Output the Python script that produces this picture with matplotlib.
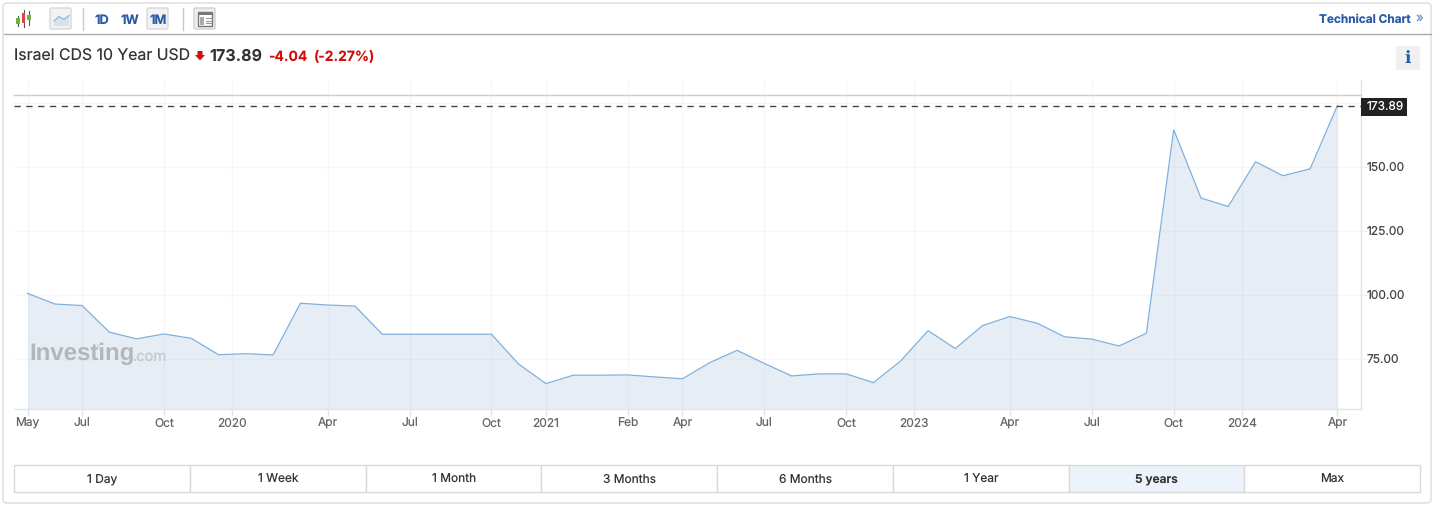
import matplotlib
matplotlib.use("Agg")
import matplotlib.pyplot as plt
from matplotlib.patches import Rectangle, FancyBboxPatch, Polygon

plt.rcParams['font.family'] = ['Inter', 'DejaVu Sans']
plt.rcParams['text.hinting'] = 'none'
plt.rcParams['text.hinting_factor'] = 1

values = [100.6, 96.4, 95.8, 85.4, 82.8, 84.7, 83.0, 76.6, 77.0, 76.5, 96.7, 96.0, 95.6,
          84.6, 84.6, 84.6, 84.6, 84.6, 72.9, 65.3, 68.6, 68.6, 68.7, 67.9, 67.2, 73.5,
          78.3, 73.2, 68.3, 69.1, 69.1, 65.7, 74.2, 86.0, 79.0, 88.0, 91.5, 88.9, 83.6,
          82.7, 80.0, 85.0, 164.5, 137.8, 134.5, 152.0, 146.5, 149.2, 173.89]
tick_pos = [0, 2, 5, 7.5, 11, 14, 17, 19, 22, 24, 27, 30, 32.5, 36, 39, 42, 44.5, 48]
tick_labels = ['May', 'Jul', 'Oct', '2020', 'Apr', 'Jul', 'Oct', '2021', 'Feb', 'Apr', 'Jul',
               'Oct', '2023', 'Apr', 'Jul', 'Oct', '2024', 'Apr']
y_ticks = [75, 100, 125, 150, 175]
y_labels = ['75.00', '100.00', '125.00', '150.00', '']
ranges = ['1 Day', '1 Week', '1 Month', '3 Months', '6 Months', '1 Year', '5 years', 'Max']
range_edges = [14, 190, 365.5, 541, 717, 892.5, 1068.5, 1244, 1420]
last_price = 173.89

W, H = 1435, 507
fig = plt.figure(figsize=(W / 100, H / 100), dpi=100, facecolor='white')

# overlay in pixel coordinates for the page furniture
bg = fig.add_axes([0, 0, 1, 1], zorder=0)
bg.set_xlim(0, W); bg.set_ylim(H, 0); bg.axis('off')
bg.add_patch(FancyBboxPatch((3, 3), 1428, 500, boxstyle='round,pad=0,rounding_size=4',
                            fc='white', ec='#dcdcdc', lw=1))
bg.plot([3.5, 1431], [34, 34], color='#ababab', lw=1)

# toolbar
for x in (82.5, 183):
    bg.plot([x, x], [8, 30], color='#c9c9c9', lw=1)
for x, y0, y1, yt, yb, c in [(18, 16, 26, 18, 24, '#6db33f'), (23.5, 10, 27, 13, 23, '#e0453a'), (29, 11, 25, 15, 20, '#6db33f')]:
    bg.plot([x, x], [y0, y1], color='#555555', lw=0.8)
    bg.add_patch(Rectangle((x - 1.8, yt), 3.6, yb - yt, fc=c, ec='none', zorder=3))
bg.add_patch(FancyBboxPatch((50, 8), 21, 21, boxstyle='round,pad=0,rounding_size=1.5', fc='#f2f2f2', ec='#d8d8d8', lw=1))
bg.add_patch(Polygon([(54, 26), (54, 21), (59, 16.5), (64, 19.5), (69, 15.5), (69, 26)], fc='#d7e2ef', ec='none'))
bg.plot([54, 59, 64, 69], [21, 16.5, 19.5, 15.5], color='#8fb1d4', lw=0.8)
bg.add_patch(FancyBboxPatch((147, 8), 21, 21, boxstyle='round,pad=0,rounding_size=1.5', fc='#f2f2f2', ec='#d8d8d8', lw=1))
bg.add_patch(FancyBboxPatch((194, 8), 21, 21, boxstyle='round,pad=0,rounding_size=1.5', fc='#eeeeee', ec='#d0d0d0', lw=1))
bg.add_patch(Rectangle((198, 12), 14, 14, fc='white', ec='#777777', lw=1))
bg.add_patch(Rectangle((198, 12), 14, 3, fc='#777777', ec='none'))
bg.add_patch(Rectangle((199.5, 17), 4.5, 7.5, fc='#aaaaaa', ec='none'))
for y in (18, 20.5, 23):
    bg.plot([205.5, 211], [y, y], color='#999999', lw=0.8)
blue = '#2a5ba8'
for x, s in [(102, '1D'), (130, '1W'), (158, '1M')]:
    bg.text(x, 23.5, s, color=blue, fontsize=9.2, fontweight='bold', ha='center', va='baseline')
bg.text(1411, 23, 'Technical Chart', color=blue, fontsize=8.5, fontweight='bold', ha='right', va='baseline')
bg.text(1420, 18.5, '»', color='#6f94c8', fontsize=9.5, ha='center', va='center')

# title row
bg.text(14, 60.5, 'Israel CDS 10 Year USD', color='#333333', fontsize=11.4, ha='left', va='baseline')
bg.add_patch(Polygon([(197.5, 51), (202.5, 51), (202.5, 55), (205, 55), (200, 60.5), (195, 55), (197.5, 55)], fc='#d0100c', ec='none'))
bg.text(209.5, 60.5, '173.89', color='#333333', fontsize=11.6, fontweight='bold', ha='left', va='baseline')
bg.text(268.5, 60.5, '-4.04', color='#d0100c', fontsize=10.0, fontweight='bold', ha='left', va='baseline')
bg.text(314, 60.5, '(-2.27%)', color='#d0100c', fontsize=10.0, fontweight='bold', ha='left', va='baseline')
bg.add_patch(Rectangle((1396, 46), 24, 24, fc='#f0f0f0', ec='none'))
bg.text(1408, 58, 'i', color=blue, fontsize=12, fontweight='bold', family='DejaVu Serif', ha='center', va='center')

# range selector
for i, label in enumerate(ranges):
    x0, x1 = range_edges[i], range_edges[i + 1]
    active = label == '5 years'
    bg.add_patch(Rectangle((x0, 465), x1 - x0, 27, fc='#ecf3fb' if active else 'white', ec='#d9d9d9', lw=1))
    bg.text((x0 + x1) / 2 + 0.5, 483.3, label, color='#333333', fontsize=8.6,
            fontweight='semibold' if active else 'normal', ha='center', va='baseline')

# plot area: x scale 27.29 px per month, y scale 2.56 px per unit
L, R, T, B = 14.0, 1361.0, 80.0, 409.0
ax = fig.add_axes([L / W, 1 - B / H, (R - L) / W, (B - T) / H], zorder=1)
ax.patch.set_alpha(0)
step = 27.29
ax.set_xlim((L - 27.5) / step, (R - 27.5) / step)
ax.set_ylim(75 - (B - 358.8) / 2.56, 75 + (358.8 - T) / 2.56)
xs = list(range(len(values)))
ax.fill_between(xs, values, ax.get_ylim()[0], color='#e6edf5', lw=0, zorder=1)
ax.set_axisbelow(False)
ax.grid(True, color='#8a9bb0', alpha=0.07, lw=1, zorder=2)
ax.plot(xs, values, color='#7fb0de', lw=0.9, zorder=3, solid_joinstyle='miter')
ax.axhline(last_price, color='#444444', lw=1, dashes=(4.5, 4), zorder=4)

ax.set_xticks(tick_pos, tick_labels)
ax.set_yticks(y_ticks, y_labels)
ax.yaxis.tick_right()
ax.tick_params(axis='x', length=5, width=1, color='#e0e3e8', labelsize=8.6, labelcolor='#666666', pad=1.5)
ax.tick_params(axis='y', length=4, width=1, color='#f0f0f0', labelsize=8.6, labelcolor='#444444', pad=0)
for s in ('top', 'left'):
    ax.spines[s].set_visible(False)
for s in ('bottom', 'right'):
    ax.spines[s].set_color('#e0e3e8')
    ax.spines[s].set_linewidth(1)

# overlay above the plot
fg = fig.add_axes([0, 0, 1, 1], zorder=2)
fg.set_xlim(0, W); fg.set_ylim(H, 0); fg.axis('off'); fg.patch.set_alpha(0)
fg.plot([14, 1361], [95, 95], color='#f3bcbc', lw=1)
fg.add_patch(Rectangle((1361, 97.5), 46, 18.5, fc='#222222', ec='none'))
fg.text(1385.5, 106.8, f'{last_price:.2f}', color='white', fontsize=8.6, ha='center', va='center')
fg.text(29, 354, 'Investing', color='#b4b7b9', fontsize=17, fontweight='bold', family='Liberation Sans', ha='left', va='center')
fg.add_patch(Rectangle((96.5, 344), 3.5, 3.5, fc='#f0dcb8', ec='none'))
fg.text(133, 356.5, '.com', color='#c4c7c9', fontsize=10.6, ha='left', va='center')

fig.savefig('out.png', dpi=100)
